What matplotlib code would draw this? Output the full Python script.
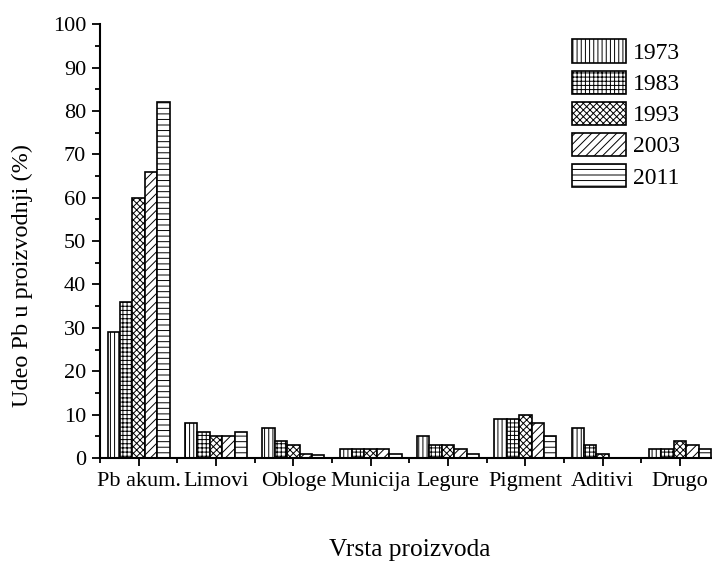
import numpy as np
import matplotlib
matplotlib.use("Agg")
from matplotlib import pyplot as plt
from matplotlib.ticker import MultipleLocator, FixedLocator

# data
categories = ["Pb akum.", "Limovi", "Obloge", "Municija", "Legure", "Pigment", "Aditivi", "Drugo"]
years = ["1973", "1983", "1993", "2003", "2011"]
v1973 = [29, 8, 7, 2, 5, 9, 7, 2]
v1983 = [36, 6, 4, 2, 3, 9, 3, 2]
v1993 = [60, 5, 3, 2, 3, 10, 0.8, 4]
v2003 = [66, 5, 0.8, 2, 2, 8, 0.1, 3]
v2011 = [82, 6, 0.7, 0.8, 0.8, 5, 0.1, 2]
series = [v1973, v1983, v1993, v2003, v2011]
hatches = ["||||", "++++", "xxxxx", "////", "---"]

plt.rcParams['font.family'] = ['Liberation Serif', 'DejaVu Serif']
plt.rcParams['hatch.linewidth'] = 0.7
plt.rcParams['axes.linewidth'] = 1.5

fig = plt.figure(figsize=(7.12, 5.64), dpi=100)
ax = fig.add_axes([0.1404, 0.188, 1.0094 - 0.1404, 0.957 - 0.188])

x = np.arange(len(categories))
w = 0.16
for i, vals in enumerate(series):
    ax.bar(x + (i - 2) * w, vals, width=w, facecolor="white", edgecolor="black",
           linewidth=1.2, hatch=hatches[i], label=years[i])

ax.set_xlim(-0.5, 7.5)
ax.set_ylim(0, 100)
ax.spines['top'].set_visible(False)
ax.spines['right'].set_visible(False)
ax.set_xticks(x)
ax.set_xticklabels(categories)
ax.xaxis.set_minor_locator(FixedLocator(np.arange(-0.5, 8, 1)))
ax.yaxis.set_major_locator(MultipleLocator(10))
ax.yaxis.set_minor_locator(MultipleLocator(5))
ax.tick_params(which='major', direction='out', length=6, width=1.3, labelsize=16, pad=4)
ax.tick_params(which='minor', direction='out', length=3.5, width=1.3)

ax.set_xlabel("Vrsta proizvoda", fontsize=18.3)
ax.xaxis.set_label_coords(0.5, -0.186)
ax.set_ylabel("Udeo Pb u proizvodnji (%)", fontsize=17.5)
ax.yaxis.set_label_coords(-0.108, 0.42)

ax.legend(loc='upper left', bbox_to_anchor=(0.803, 0.93), bbox_transform=fig.transFigure,
          frameon=False, fontsize=17, handlelength=2.3, handleheight=1.15,
          labelspacing=0.27, handletextpad=0.3, borderpad=0, borderaxespad=0)

fig.savefig("out.png", dpi=100)
